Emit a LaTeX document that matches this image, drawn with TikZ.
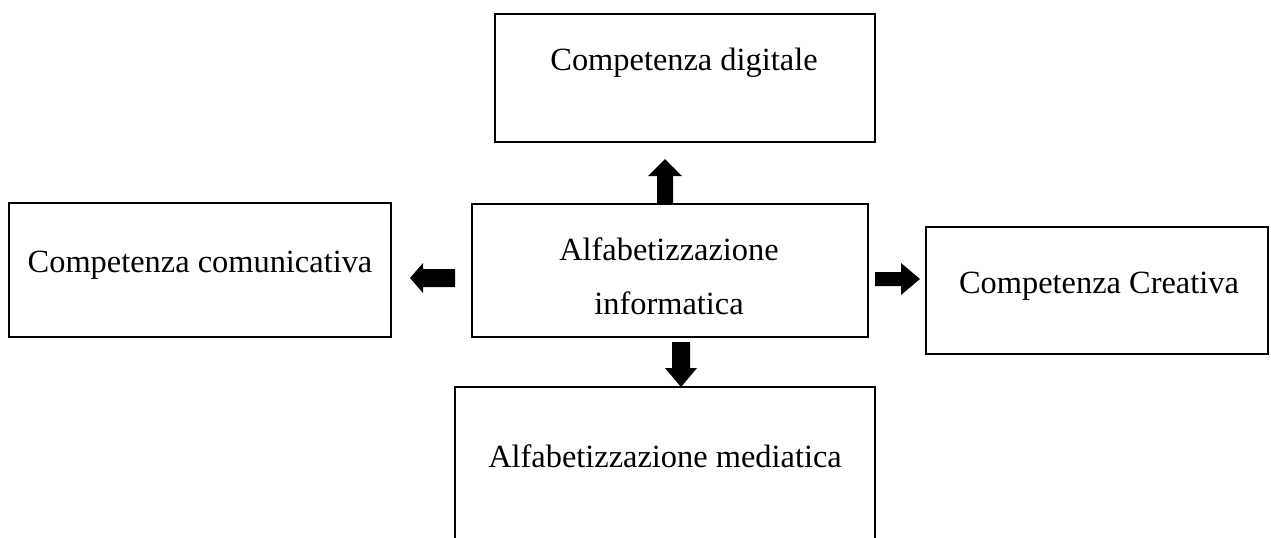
\documentclass[tikz,border=0pt]{standalone}
\usepackage{fontspec}
\setmainfont{Liberation Serif}
\begin{document}
\begin{tikzpicture}[x=0.5pt,y=-0.5pt,
  box/.style={draw=black,line width=1pt,inner sep=0pt,outer sep=0pt,fill=none},
  lbl/.style={anchor=base,inner sep=0pt,font=\fontsize{16.2}{20}\selectfont},
  blockarrow/.style={fill=black,draw=none}]
\useasboundingbox (0,0) rectangle (1271,537);
\clip (0,0) rectangle (1271,537);
% boxes
\node[box,minimum width=190pt,minimum height=64pt] (dig) at (685,78) {};
\node[box,minimum width=191pt,minimum height=67pt] (com) at (200,270) {};
\node[box,minimum width=198pt,minimum height=66.5pt] (alf) at (670,270.5) {};
\node[box,minimum width=171pt,minimum height=63.5pt] (cre) at (1097,290.5) {};
\node[box,minimum width=210pt,minimum height=106.5pt] (med) at (665,493.5) {};
% labels
\node[lbl] (tdig) at (684,70) {Competenza digitale};
\node[lbl] (tcom) at (200,272) {Competenza comunicativa};
\node[lbl] (talf1) at (669,260) {Alfabetizzazione};
\node[lbl] (talf2) at (669,314) {informatica};
\node[lbl] (tcre) at (1099,293) {Competenza Creativa};
\node[lbl] (tmed) at (665,467) {Alfabetizzazione mediatica};
% block arrows
\fill[blockarrow] (657,204) -- (657,176) -- (648,176) -- (665,159) -- (682,176) -- (673,176) -- (673,204) -- cycle;
\fill[blockarrow] (455,269) -- (423,269) -- (423,263) -- (410,278) -- (423,293) -- (423,287) -- (455,287) -- cycle;
\fill[blockarrow] (875,272) -- (901,272) -- (901,263) -- (920,279) -- (901,295) -- (901,286) -- (875,286) -- cycle;
\fill[blockarrow] (672,342) -- (690,342) -- (690,368) -- (697,368) -- (681,387) -- (665,368) -- (672,368) -- cycle;
\end{tikzpicture}
\end{document}
